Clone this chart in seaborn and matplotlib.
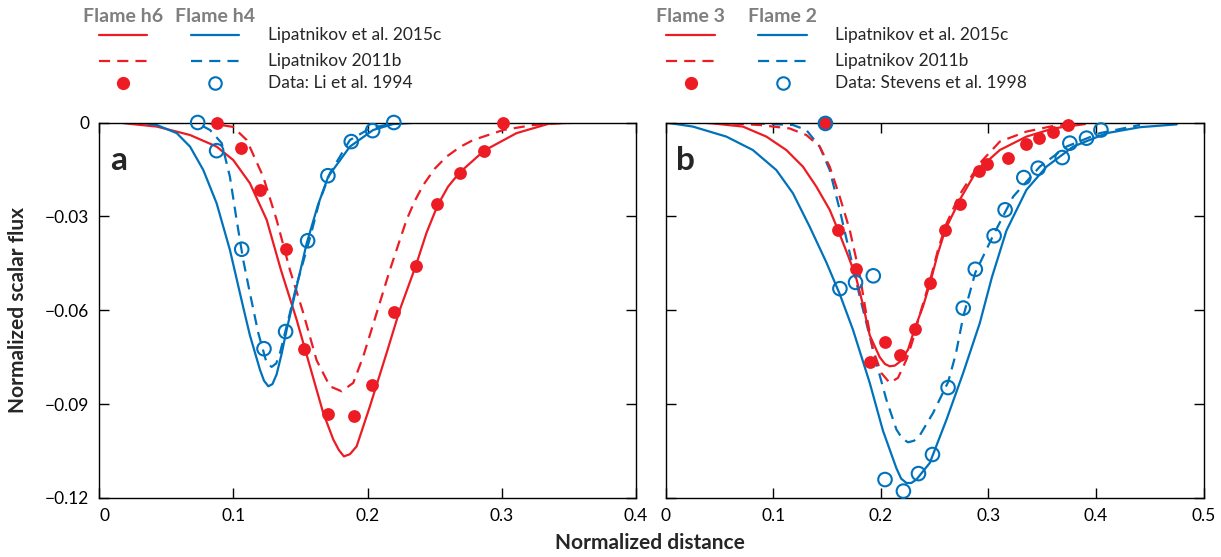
import matplotlib
matplotlib.use("Agg")
import matplotlib.pyplot as plt
from matplotlib.lines import Line2D
import seaborn as sns

RED = "#ED1C24"
BLUE = "#0072BC"
GREY = "#7F7F7F"

# ---- panel a: Flame h6 (red) / Flame h4 (blue), Li et al. 1994 ----
a_h6_2015c_x = [0.015, 0.0201, 0.043, 0.0678, 0.0876, 0.100, 0.1124, 0.1249, 0.1355, 0.1472, 0.1571, 0.167,
                0.1745, 0.1787, 0.1824, 0.1869, 0.1919, 0.2018, 0.2142, 0.2241, 0.2358, 0.2440, 0.2522, 0.2600,
                0.2686, 0.2869, 0.311, 0.3358, 0.3656]
a_h6_2015c_y = [0.0, -0.0003, -0.0013, -0.0040, -0.0077, -0.0120, -0.0194, -0.0311, -0.0471, -0.0630, -0.0779, -0.0928,
                -0.1013, -0.1047, -0.1067, -0.1060, -0.1035, -0.0907, -0.0737, -0.0598, -0.0460, -0.0352, -0.0265,
                -0.0205, -0.0160, -0.0090, -0.0034, -0.0003, 0.0]
a_h6_2011b_x = [0.0789, 0.0998, 0.110, 0.1223, 0.1323, 0.1422, 0.1519, 0.1621, 0.172, 0.1807, 0.1894, 0.1968,
                0.2068, 0.2167, 0.2291, 0.2353, 0.2415, 0.2500, 0.2589, 0.2690, 0.2787, 0.3011, 0.3234, 0.351]
a_h6_2011b_y = [0.0, -0.0014, -0.0056, -0.0173, -0.0311, -0.0471, -0.0605, -0.0760, -0.0843, -0.0859, -0.0832,
                -0.0748, -0.0609, -0.0471, -0.0311, -0.0250, -0.0200, -0.0148, -0.0109, -0.0078, -0.0056, -0.0024,
                -0.0008, 0.0]
a_h4_2015c_x = [0.0305, 0.043, 0.0579, 0.0678, 0.0777, 0.0876, 0.0975, 0.1074, 0.1124, 0.1199, 0.1229, 0.1261, 0.1292,
                0.1323, 0.1360, 0.1398, 0.1484, 0.1547, 0.1630, 0.1707, 0.1869, 0.2042, 0.2191, 0.239]
a_h4_2015c_y = [0.0, -0.0008, -0.0034, -0.0077, -0.0152, -0.0258, -0.0407, -0.0590, -0.0680, -0.0790, -0.0825, -0.0843,
                -0.0836, -0.0805, -0.0740, -0.0662, -0.0503, -0.0386, -0.0265, -0.0173, -0.0077, -0.0024, -0.0005, 0.0]
a_h4_2011b_x = [0.064, 0.0727, 0.0827, 0.0914, 0.0975, 0.1025, 0.1074, 0.1124, 0.1186, 0.1249, 0.1286, 0.1320, 0.1348,
                0.1422, 0.1472, 0.1571, 0.1640, 0.172, 0.1869, 0.2018, 0.2191, 0.2316]
a_h4_2011b_y = [0.0, -0.0001, -0.0024, -0.0066, -0.0173, -0.0311, -0.0439, -0.0545, -0.0672, -0.0769, -0.0781, -0.0770,
                -0.0737, -0.0609, -0.0519, -0.0370, -0.0255, -0.0162, -0.0056, -0.0019, -0.0003, 0.0]
a_h6_data_x = [0.0876, 0.1057, 0.1199, 0.139, 0.1529, 0.1707, 0.1897, 0.2035, 0.2199, 0.2358, 0.2521, 0.2686, 0.2869, 0.3010]
a_h6_data_y = [0.0, -0.0080, -0.0215, -0.0405, -0.0723, -0.0930, -0.0939, -0.0840, -0.0604, -0.0460, -0.0261, -0.0161, -0.0090, 0.0]
a_h4_data_x = [0.0735, 0.0876, 0.1063, 0.1229, 0.139, 0.1554, 0.1705, 0.1879, 0.2038, 0.2196]
a_h4_data_y = [0.0, -0.0090, -0.0405, -0.0723, -0.0668, -0.0378, -0.0170, -0.0061, -0.0026, 0.0]

# ---- panel b: Flame 3 (red) / Flame 2 (blue), Stevens et al. 1998 ----
b_f3_2015c_x = [0.0316, 0.044, 0.0719, 0.0937, 0.1123, 0.1277, 0.1402, 0.1526, 0.1603, 0.1696, 0.1767, 0.1835, 0.1898,
                0.1991, 0.2040, 0.2084, 0.2130, 0.2177, 0.2254, 0.2316, 0.2393, 0.246, 0.2530, 0.2602, 0.2738, 0.289,
                0.3107, 0.3355, 0.3603, 0.3898]
b_f3_2015c_y = [0.0, -0.0003, -0.0013, -0.0045, -0.0088, -0.0141, -0.0205, -0.0279, -0.0343, -0.0425, -0.0490, -0.0582,
                -0.0680, -0.0750, -0.0772, -0.0779, -0.0777, -0.0765, -0.0726, -0.0659, -0.0588, -0.0512, -0.0420,
                -0.0341, -0.0245, -0.0155, -0.0088, -0.0045, -0.0019, -0.0005]
b_f3_2011b_x = [0.0456, 0.0874, 0.1153, 0.1309, 0.1433, 0.1526, 0.1619, 0.1712, 0.1805, 0.1867, 0.1928, 0.2007, 0.2084,
                0.2161, 0.2239, 0.23, 0.2363, 0.246, 0.2530, 0.2602, 0.2735, 0.2921, 0.3107, 0.3355, 0.3603, 0.3851]
b_f3_2011b_y = [0.0, -0.0008, -0.0019, -0.0040, -0.0077, -0.0141, -0.0237, -0.0343, -0.0487, -0.0614, -0.0726, -0.0801,
                -0.0832, -0.0816, -0.0758, -0.0694, -0.0614, -0.0503, -0.0410, -0.0330, -0.0230, -0.0130, -0.0061,
                -0.0029, -0.0011, -0.0005]
b_f2_2015c_x = [0.0, 0.0254, 0.0565, 0.0812, 0.103, 0.1184, 0.134, 0.1495, 0.1619, 0.1742, 0.1898, 0.2021, 0.2146, 0.2190,
                0.2239, 0.2285, 0.2332, 0.2456, 0.2611, 0.2766, 0.2921, 0.3033, 0.3169, 0.3355, 0.3541, 0.3789, 0.41,
                0.4409, 0.4751]
b_f2_2015c_y = [0.0, -0.0013, -0.0045, -0.0088, -0.0152, -0.0226, -0.0333, -0.0447, -0.0548, -0.0662, -0.0832, -0.0985,
                -0.1105, -0.1138, -0.1152, -0.1152, -0.1141, -0.1088, -0.0950, -0.0801, -0.0641, -0.0495, -0.0345,
                -0.0215, -0.0141, -0.0077, -0.0034, -0.0015, -0.0006]
b_f2_2011b_x = [0.065, 0.1184, 0.1309, 0.1433, 0.1526, 0.1619, 0.1712, 0.1805, 0.1867, 0.196, 0.2053, 0.2146, 0.2200,
                0.2254, 0.2310, 0.2363, 0.2487, 0.2626, 0.2698, 0.2767, 0.2879, 0.3054, 0.3231, 0.3479, 0.3727, 0.4037,
                0.4409]
b_f2_2011b_y = [0.0, -0.0008, -0.0024, -0.0077, -0.0152, -0.0279, -0.0417, -0.0556, -0.0641, -0.0769, -0.0886, -0.0981,
                -0.1010, -0.1022, -0.1017, -0.1000, -0.0928, -0.0830, -0.0740, -0.0620, -0.0480, -0.0355, -0.0237,
                -0.0141, -0.0077, -0.0034, -0.0008]
b_f3_data_x = [0.1486, 0.1603, 0.1767, 0.1904, 0.2040, 0.2183, 0.2316, 0.2460, 0.2602, 0.2735, 0.2909, 0.2989, 0.3184,
               0.3355, 0.3467, 0.3603, 0.3742]
b_f3_data_y = [-0.0003, -0.0343, -0.0469, -0.0765, -0.0701, -0.0742, -0.0659, -0.0512, -0.0342, -0.0259, -0.0155, -0.0132,
               -0.0112, -0.0070, -0.0049, -0.0029, -0.0008]
b_f2_data_x = [0.1486, 0.1621, 0.1766, 0.1931, 0.2040, 0.2211, 0.2351, 0.2481, 0.2626, 0.2767, 0.2879, 0.3054, 0.3156,
               0.3330, 0.3463, 0.3687, 0.3758, 0.3913, 0.4047]
b_f2_data_y = [-0.0003, -0.0531, -0.0511, -0.0490, -0.1141, -0.1178, -0.1122, -0.1061, -0.0847, -0.0593, -0.0469, -0.0362,
               -0.0279, -0.0176, -0.0146, -0.0112, -0.0066, -0.0050, -0.0024]

y_ticks = [0, -0.03, -0.06, -0.09, -0.12]
y_tick_labels = ["0", "\u22120.03", "\u22120.06", "\u22120.09", "\u22120.12"]
a_x_ticks = [0, 0.1, 0.2, 0.3, 0.4]
b_x_ticks = [0, 0.1, 0.2, 0.3, 0.4, 0.5]

sns.set_style("ticks")
plt.rcParams["font.family"] = ["Lato", "DejaVu Sans"]

W, H = 1221, 557
fig = plt.figure(figsize=(W / 100, H / 100), dpi=100)
bot, top = 498, 122.5
ax_a = fig.add_axes([99 / W, 1 - bot / H, (636 - 99) / W, (bot - top) / H])
ax_b = fig.add_axes([665.5 / W, 1 - bot / H, (1203.5 - 665.5) / W, (bot - top) / H])

DASH = (0, (5, 3.2))


def curves(ax, x, y, color, dashed=False):
    sns.lineplot(x=x, y=y, ax=ax, color=color, linewidth=1.6, sort=False, estimator=None,
                 linestyle=DASH if dashed else "-", zorder=2)


def points(ax, x, y, filled):
    if filled:
        sns.scatterplot(x=x, y=y, ax=ax, color=RED, s=85, linewidth=0, zorder=4, clip_on=False)
    else:
        sns.scatterplot(x=x, y=y, ax=ax, s=95, facecolors="none", edgecolor=BLUE, linewidth=1.5,
                        zorder=5, clip_on=False)


curves(ax_a, a_h6_2015c_x, a_h6_2015c_y, RED)
curves(ax_a, a_h6_2011b_x, a_h6_2011b_y, RED, dashed=True)
curves(ax_a, a_h4_2015c_x, a_h4_2015c_y, BLUE)
curves(ax_a, a_h4_2011b_x, a_h4_2011b_y, BLUE, dashed=True)
points(ax_a, a_h6_data_x, a_h6_data_y, True)
points(ax_a, a_h4_data_x, a_h4_data_y, False)

curves(ax_b, b_f2_2015c_x, b_f2_2015c_y, BLUE)
curves(ax_b, b_f2_2011b_x, b_f2_2011b_y, BLUE, dashed=True)
curves(ax_b, b_f3_2015c_x, b_f3_2015c_y, RED)
curves(ax_b, b_f3_2011b_x, b_f3_2011b_y, RED, dashed=True)
points(ax_b, b_f3_data_x, b_f3_data_y, True)
points(ax_b, b_f2_data_x, b_f2_data_y, False)

for ax, xt, lim in [(ax_a, a_x_ticks, 0.4), (ax_b, b_x_ticks, 0.5)]:
    ax.set_xlim(0, lim)
    ax.set_ylim(-0.12, 0)
    ax.set_xticks(xt)
    ax.set_xticklabels([f"{t:g}" for t in xt])
    ax.set_yticks(y_ticks)
    ax.set_xlabel("")
    ax.set_ylabel("")
    ax.tick_params(direction="in", length=7, width=1, top=True, right=True, labelsize=12.5, pad=7, colors="black")
    for s in ax.spines.values():
        s.set_visible(True)
        s.set_linewidth(1.0)
        s.set_color("black")

ax_a.set_yticklabels(y_tick_labels)
ax_b.tick_params(labelleft=False)
ax_a.get_xticklabels()[0].set_horizontalalignment("left")

ax_a.text(0.02, 0.9, "a", transform=ax_a.transAxes, fontsize=24, fontweight="bold", va="center")
ax_b.text(0.02, 0.9, "b", transform=ax_b.transAxes, fontsize=24, fontweight="bold", va="center")

fig.text(18 / W, 1 - 310 / H, "Normalized scalar flux", rotation=90, ha="center", va="center",
         fontsize=15, fontweight="bold")
fig.text(650 / W, 1 - 543 / H, "Normalized distance", ha="center", va="center", fontsize=15, fontweight="bold")


def legend_block(heads, xs_line, x_text, texts):
    # column titles, sample lines and markers, then the row labels
    for (x0, x1), head in zip(xs_line, heads):
        fig.text((x0 + x1) / 2 / W, 1 - 17 / H, head, ha="center", va="center", fontsize=14,
                 fontweight="bold", color=GREY)
    for (x0, x1), col in zip(xs_line, [RED, BLUE]):
        fig.add_artist(Line2D([x0 / W, x1 / W], [1 - 35 / H] * 2, color=col, lw=1.6))
        fig.add_artist(Line2D([x0 / W, x1 / W], [1 - 61 / H] * 2, color=col, lw=1.6, ls=DASH))
    fig.add_artist(Line2D([(xs_line[0][0] + xs_line[0][1]) / 2 / W], [1 - 83 / H], marker="o", ms=8.5,
                          color=RED, mec=RED, ls="none"))
    fig.add_artist(Line2D([(xs_line[1][0] + xs_line[1][1]) / 2 / W], [1 - 83 / H], marker="o", ms=9,
                          mfc="none", mec=BLUE, mew=1.5, ls="none"))
    for yy, t in zip([35, 61, 83], texts):
        fig.text(x_text / W, 1 - yy / H, t, ha="left", va="center", fontsize=12.5)


legend_block(["Flame h6", "Flame h4"], [(99, 147), (191, 239)], 268,
             ["Lipatnikov et al. 2015c", "Lipatnikov 2011b", "Data: Li et al. 1994"])
legend_block(["Flame 3", "Flame 2"], [(666, 715), (758, 807)], 835,
             ["Lipatnikov et al. 2015c", "Lipatnikov 2011b", "Data: Stevens et al. 1998"])

fig.savefig("out.png", dpi=100)
